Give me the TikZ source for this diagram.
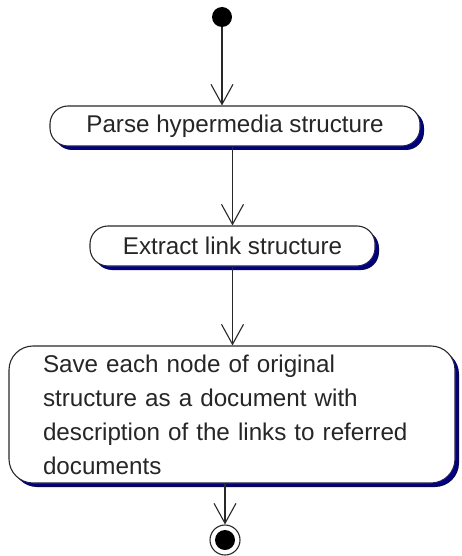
\documentclass[tikz,border=0pt]{standalone}
\usepackage{fontspec}
\setmainfont{Liberation Sans}
\usetikzlibrary{arrows.meta,shadows}
\definecolor{shadownavy}{RGB}{0,0,128}
\definecolor{linegray}{RGB}{40,40,40}
\begin{document}
\begin{tikzpicture}[x=1pt,y=-1pt,
  act/.style={draw=linegray, line width=1.1pt, fill=white, rounded corners=18pt,
    drop shadow={shadow xshift=4pt, shadow yshift=-4pt, fill=shadownavy, opacity=1},
    font=\fontsize{24.2}{34}\selectfont, text=black!85, inner sep=0pt},
  arr/.style={draw=linegray, line width=1.1pt, -{Straight Barb[length=20pt,width=22pt,line width=1.1pt]}}
]
\useasboundingbox (0,0) rectangle (461,556);
\node[circle, fill=black, minimum size=20pt, inner sep=0pt] (start) at (222,17) {};
\node[act, minimum width=370pt, minimum height=40pt] (b1) at (235,126) {Parse hypermedia structure};
\node[act, minimum width=285pt, minimum height=40pt] (b2) at (232.5,246) {Extract link structure};
\node[act, rounded corners=24pt, minimum width=446pt, minimum height=137pt, text width=378pt, align=left, inner xsep=34pt] (b3) at (232,414.5)
  {Save each node of original\\structure as a document with\\description of the links to referred\\documents};
\node[circle, draw=linegray, line width=1.1pt, minimum size=30pt, inner sep=0pt] (end) at (225,540) {};
\node[circle, fill=black, minimum size=20pt, inner sep=0pt] (endin) at (end.center) {};
\draw[arr] (start) -- (start |- b1.north);
\draw[arr] (b2.north |- b1.south) -- (b2.north);
\draw[arr] (b2.south) -- (b2.south |- b3.north);
\draw[arr] (end |- b3.south) -- (end.north);
\end{tikzpicture}
\end{document}
